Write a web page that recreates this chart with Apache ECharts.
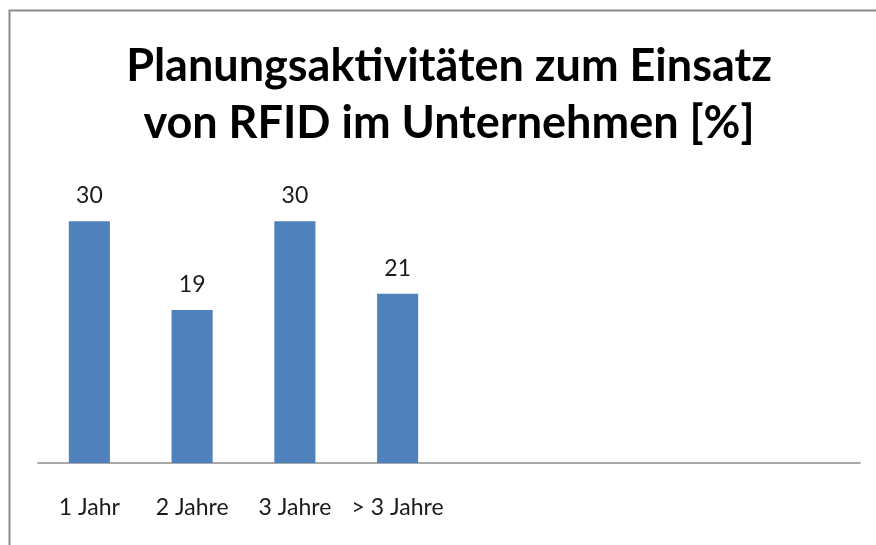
<!DOCTYPE html>
<html lang="de">
<head>
    <meta charset="UTF-8">
    <title>Planungsaktivitäten</title>
    <script src="https://cdn.jsdelivr.net/npm/echarts@6/dist/echarts.min.js"></script>
    <style>
        html, body { margin: 0; padding: 0; background: #fff; }
        #chart { width: 876px; height: 545px; }
    </style>
</head>
<body>
    <div id="chart"></div>
<script>
    // Kategorien (die letzten vier Plätze sind leer, wie im Original)
    var categories = ['1 Jahr', '2 Jahre', '3 Jahre', '> 3 Jahre', '', '', '', ''];
    var values = [30, 19, 30, 21];

    var chart = echarts.init(document.getElementById('chart'));
    var option = {
        animation: false,
        title: {
            text: 'Planungsaktivitäten zum Einsatz\nvon RFID im Unternehmen [%]',
            left: 449,          // Mitte des Titels, leicht rechts der Bildmitte
            textAlign: 'center',
            top: 33,
            padding: [5, 0, 5, 0],
            textStyle: {
                fontFamily: 'Lato',
                fontWeight: 'bold',
                fontSize: 45,
                lineHeight: 57,
                color: '#000'
            }
        },
        graphic: [{
            type: 'rect',
            shape: { x: 9.5, y: 10.5, width: 900, height: 600 },
            style: { fill: 'none', stroke: '#8c8c8c', lineWidth: 2 },
            silent: true
        }],
        grid: { left: 38, right: 16, top: 181, bottom: 82 },
        xAxis: {
            type: 'category',
            data: categories,
            axisLine: { lineStyle: { color: '#8c8c8c', width: 1.5 } },
            axisTick: { show: false },
            axisLabel: {
                interval: 0,
                margin: 33,
                fontFamily: 'Lato',
                fontSize: 23,
                color: '#1a1a1a'
            }
        },
        yAxis: {
            type: 'value',
            min: 0,
            max: 35,
            show: false,
            splitLine: { show: false }
        },
        series: [{
            type: 'bar',
            data: values,
            barWidth: '40%',
            itemStyle: { color: '#4f81bd' },
            label: {
                show: true,
                position: 'top',
                distance: 14,
                fontFamily: 'Lato',
                fontSize: 23,
                color: '#1a1a1a'
            }
        }]
    };
    chart.setOption(option);
</script>
</body>
</html>
